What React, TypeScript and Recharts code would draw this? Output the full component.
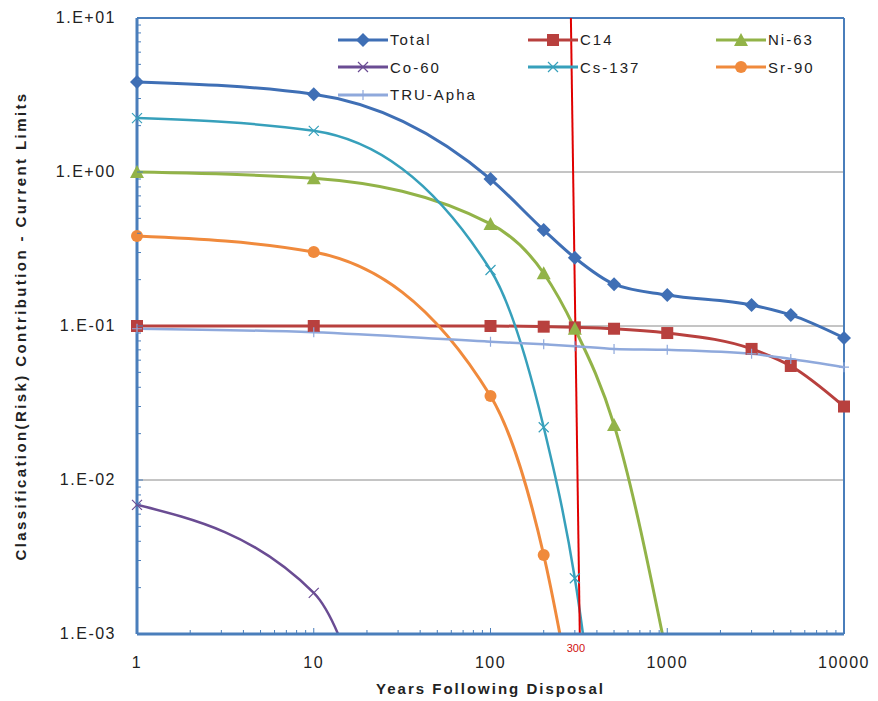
import React from "react";
import { LineChart, Line, XAxis, YAxis, CartesianGrid, ReferenceLine, Legend, Label } from "recharts";

// years after disposal
const years = [1, 10, 100, 200, 300, 500, 1000, 3000, 5000, 10000];

// contributions (fraction of current limits)
const total = [3.84, 3.2, 0.9, 0.42, 0.277, 0.187, 0.159, 0.137, 0.118, 0.0836];
const c14 = [0.1, 0.1, 0.1, 0.099, 0.098, 0.096, 0.09, 0.071, 0.055, 0.03];
const ni63 = [1.0, 0.91, 0.46, 0.22, 0.096, 0.0228, 0.0007, null, null, null];
const co60 = [0.0069, 0.00185, 1.5e-8, null, null, null, null, null, null, null];
const cs137 = [2.24, 1.85, 0.231, 0.022, 0.0023, 0.000022, null, null, null, null];
const sr90 = [0.384, 0.302, 0.0351, 0.00326, 0.0003, null, null, null, null, null];
const truAlpha = [0.096, 0.091, 0.079, 0.076, 0.074, 0.071, 0.07, 0.066, 0.061, 0.054];

const xMajor = [1, 10, 100, 1000, 10000];
const yMajor = [0.001, 0.01, 0.1, 1, 10];
const cutoffYear = 300;

const series = [
    {key: "total", name: "Total", color: "#3f6fb5", shape: "diamond", values: total},
    {key: "c14", name: "C14", color: "#b8403e", shape: "square", values: c14},
    {key: "ni63", name: "Ni-63", color: "#92b348", shape: "triangle", values: ni63},
    {key: "co60", name: "Co-60", color: "#6a4c93", shape: "cross", values: co60},
    {key: "cs137", name: "Cs-137", color: "#37a0bb", shape: "cross", values: cs137},
    {key: "sr90", name: "Sr-90", color: "#f08a3c", shape: "circle", values: sr90},
    {key: "tru", name: "TRU-Apha", color: "#8fa9dc", shape: "plus", values: truAlpha},
];

const xDomain = [1, 10000];
const yDomain = [0.001, 10];

// lines keep the off-scale values so they run out of the plot; markers only for points on scale
const data = years.map((year, i) => {
    const row: any = {year};
    series.forEach(s => {
        const v = s.values[i];
        row[s.key] = v;
        row[s.key + "_mk"] = v != null && v >= yDomain[0] ? v : null;
    });
    return row;
});

const minors = (majors: number[]) => {
    const out: number[] = [];
    majors.forEach((m, i) => {
        out.push(m);
        if (i < majors.length - 1) for (let k = 2; k <= 9; k++) out.push(m * k);
    });
    return out;
};
const xTicks = minors(xMajor);
const yTicks = minors(yMajor);

const isMajor = (v: number) => Math.abs(Math.log10(v) - Math.round(Math.log10(v))) < 1e-9;
const sciLabel = (v: number) => {
    const e = Math.round(Math.log10(v));
    return "1.E" + (e < 0 ? "-" : "+") + String(Math.abs(e)).padStart(2, "0");
};

const axisBlue = "#4a7ebb";
const font = "'Liberation Sans', Arial, sans-serif";

const marker = (shape: string, cx: number, cy: number, c: string) => {
    switch (shape) {
        case "diamond":
            return <path d={`M${cx},${cy - 7}L${cx + 7},${cy}L${cx},${cy + 7}L${cx - 7},${cy}Z`} fill={c}/>;
        case "square":
            return <rect x={cx - 6} y={cy - 6} width={12} height={12} fill={c}/>;
        case "triangle":
            return <path d={`M${cx},${cy - 7}L${cx + 7},${cy + 6}L${cx - 7},${cy + 6}Z`} fill={c}/>;
        case "circle":
            return <circle cx={cx} cy={cy} r={6} fill={c}/>;
        case "cross":
            return <path d={`M${cx - 5},${cy - 5}L${cx + 5},${cy + 5}M${cx - 5},${cy + 5}L${cx + 5},${cy - 5}`} stroke={c} strokeWidth={1.2}/>;
        default:
            return <path d={`M${cx - 5},${cy}L${cx + 5},${cy}M${cx},${cy - 5}L${cx},${cy + 5}`} stroke={c} strokeWidth={1.2}/>;
    }
};

const makeDot = (shape: string, color: string) => (props: any) => {
    const {cx, cy, index, value} = props;
    if (cx == null || cy == null || value == null || isNaN(cy)) return <g key={index}/>;
    return <g key={index}>{marker(shape, cx, cy, color)}</g>;
};

const XTick = (props: any) => {
    const {x, y, payload} = props;
    const v = payload.value;
    const major = isMajor(v);
    return (
        <g>
            <line x1={x} x2={x} y1={y} y2={y - (major ? 6 : 4)} stroke={axisBlue} strokeWidth={1}/>
            {major && <text x={x} y={y + 34} textAnchor="middle" fontFamily={font} fontSize={16} letterSpacing={1.5} fill="#222">{v}</text>}
            {v === cutoffYear && <text x={x + 1} y={y + 18} textAnchor="middle" fontFamily={font} fontSize={11} fill="#d01010">{v}</text>}
        </g>
    );
};

const YTick = (props: any) => {
    const {x, y, payload} = props;
    const v = payload.value;
    const major = isMajor(v);
    return (
        <g>
            <line x1={x} x2={x + (major ? 6 : 4)} y1={y} y2={y} stroke={axisBlue} strokeWidth={1}/>
            {major && <text x={x - 21} y={y + 5} textAnchor="end" fontFamily={font} fontSize={16} letterSpacing={1.5} fill="#222">{sciLabel(v)}</text>}
        </g>
    );
};

const renderLegend = () => (
    <div style={{display: "grid", gridTemplateColumns: "190px 188px 120px", fontFamily: font, fontSize: 15, letterSpacing: 2, color: "#222"}}>
        {series.map(s => (
            <div key={s.key} style={{display: "flex", alignItems: "center", height: 27.5}}>
                <svg width={50} height={16}>
                    <line x1={0} x2={50} y1={8} y2={8} stroke={s.color} strokeWidth={3}/>
                    {marker(s.shape, 25, 8, s.color)}
                </svg>
                <span style={{marginLeft: 2}}>{s.name}</span>
            </div>
        ))}
    </div>
);

export default function App() {
    return (
        <div style={{position: "absolute", left: 0, top: 0, width: 878, height: 701, background: "#fff"}}>
            <LineChart width={878} height={701} data={data} margin={{top: 18, right: 34, left: 0, bottom: 0}}>
                <CartesianGrid vertical={false} stroke="#8a8a8a" strokeWidth={1} horizontalValues={[0.01, 0.1, 1]}/>
                <XAxis dataKey="year" type="number" scale="log" domain={xDomain} allowDataOverflow
                       ticks={xTicks} interval={0} tick={<XTick/>} tickLine={false} tickSize={0} tickMargin={0}
                       height={67} axisLine={{stroke: axisBlue, strokeWidth: 3}}>
                    <Label content={(p: any) => (
                        <text x={p.viewBox.x + p.viewBox.width / 2} y={p.viewBox.y + 60} textAnchor="middle"
                              fontFamily={font} fontSize={15} fontWeight="bold" letterSpacing={2} fill="#222">
                            Years Following Disposal
                        </text>
                    )}/>
                </XAxis>
                <YAxis type="number" scale="log" domain={yDomain} allowDataOverflow
                       ticks={yTicks} interval={0} tick={<YTick/>} tickLine={false} tickSize={0} tickMargin={0}
                       width={137} axisLine={{stroke: axisBlue, strokeWidth: 3}}>
                    <Label content={(p: any) => {
                        const cx = 20;
                        const cy = p.viewBox.y + p.viewBox.height / 2;
                        return (
                            <text x={cx} y={cy} transform={`rotate(-90 ${cx} ${cy})`} textAnchor="middle" dominantBaseline="central"
                                  fontFamily={font} fontSize={15} fontWeight="bold" letterSpacing={2.4} fill="#222">
                                Classification(Risk) Contribution - Current Limits
                            </text>
                        );
                    }}/>
                </YAxis>
                {/* same scales again, without clipping, for the markers */}
                <XAxis xAxisId="mk" dataKey="year" type="number" scale="log" domain={xDomain} hide/>
                <YAxis yAxisId="mk" type="number" scale="log" domain={yDomain} hide/>
                <ReferenceLine y={10} stroke={axisBlue} strokeWidth={2}/>
                <ReferenceLine x={10000} stroke={axisBlue} strokeWidth={2}/>
                {series.map(s => (
                    <Line key={s.key} dataKey={s.key} name={s.name} type="monotone" stroke={s.color}
                          strokeWidth={s.shape === "cross" || s.shape === "plus" ? 2.5 : 3}
                          dot={false} activeDot={false} isAnimationActive={false}/>
                ))}
                {series.map(s => (
                    <Line key={s.key + "_mk"} xAxisId="mk" yAxisId="mk" dataKey={s.key + "_mk"} legendType="none"
                          stroke="none" dot={makeDot(s.shape, s.color)} activeDot={false} isAnimationActive={false}/>
                ))}
                <ReferenceLine segment={[{x: 285, y: 10}, {x: 320, y: 0.001}]} stroke="#e00000" strokeWidth={2}/>
                <Legend layout="horizontal" verticalAlign="middle" align="center" content={renderLegend}
                        wrapperStyle={{position: "absolute", left: 338, top: 26, width: 520}}/>
            </LineChart>
        </div>
    );
}
